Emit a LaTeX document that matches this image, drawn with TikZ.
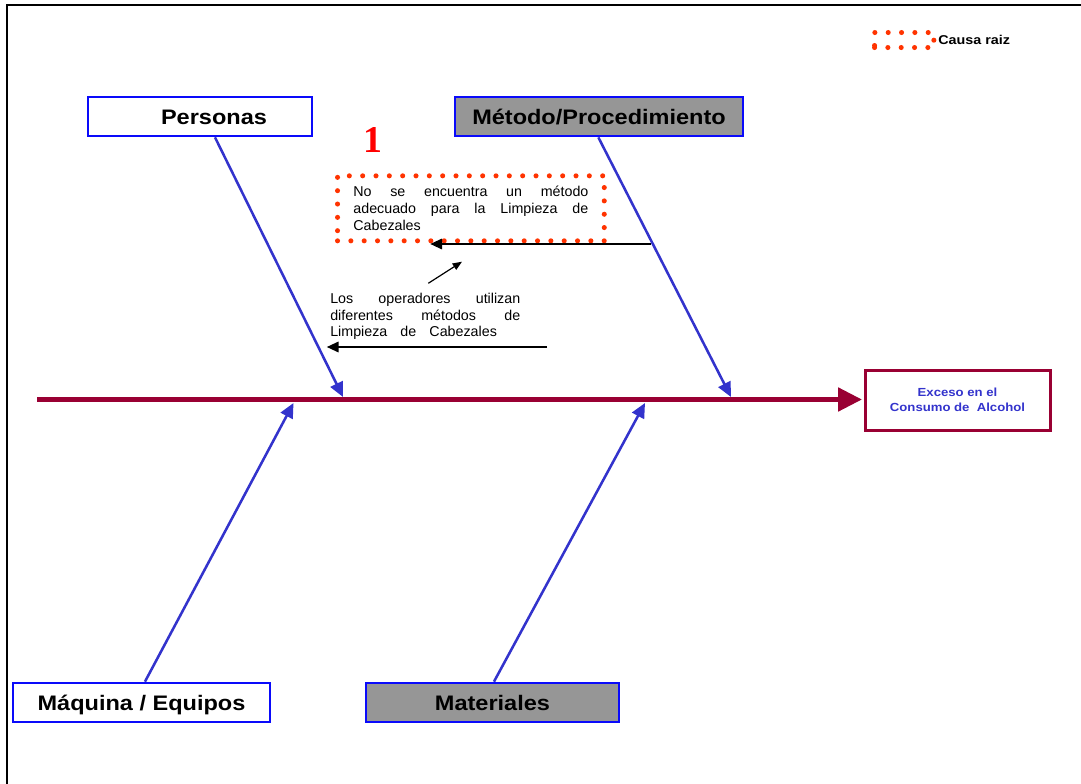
\documentclass[tikz,border=0pt]{standalone}
\usepackage{fontspec}
\setmainfont{Liberation Sans}
\newfontfamily\labelfont[FakeStretch=1.12]{Liberation Sans}
\newfontfamily\numfont{Liberation Serif}
\usetikzlibrary{arrows.meta,calc}
\definecolor{spinecol}{RGB}{153,0,51}
\definecolor{bonecol}{RGB}{51,51,204}
\definecolor{boxblue}{RGB}{10,10,250}
\definecolor{fillgray}{RGB}{150,150,150}
\definecolor{rootdot}{RGB}{255,51,0}
% a line of words spread evenly over a given width
\newcommand{\spreadline}[2]{\leavevmode\hbox to #1{#2}}

\begin{document}
\begin{tikzpicture}[x=0.75pt,y=-0.75pt,
  category/.style={draw=boxblue, line width=2pt, fill=white, minimum height=29.25pt,
    inner sep=0pt, text height=11.3pt, text depth=0pt,
    font=\labelfont\bfseries\fontsize{15.75}{18}\selectfont},
  grayed/.style={fill=fillgray},
  spine/.style={draw=spinecol, line width=4.2pt, -{Triangle[length=18pt,width=17pt]}},
  bone/.style={draw=bonecol, line width=1.9pt, -{Triangle[length=11pt,width=10pt]}},
  subcause/.style={draw=black, line width=2.2pt, -{Triangle[length=9pt,width=7.5pt]}},
  pointer/.style={draw=black, line width=0.9pt, -{Triangle[length=7pt,width=5.5pt]}},
  rootdots/.style={draw=rootdot, line width=3.8pt, line cap=round, dash pattern=on 0pt off 10pt},
  note/.style={font=\fontsize{10.7}{12.4}\selectfont, align=left, inner sep=0pt}
]
\useasboundingbox (0,0) rectangle (1081,784);

% page frame
\draw[line width=1.5pt] (7,784) -- (7,5) -- (1081,5);

% legend
\node[rootdots, minimum width=44.5pt, minimum height=11.25pt, inner sep=0pt, anchor=north west] (legend) at (872,30) {};
\node[font=\labelfont\bfseries\fontsize{9.6}{11}\selectfont, anchor=base west, inner sep=0pt] (legendtext) at (938,45) {Causa raiz};

% effect
\node[draw=spinecol, line width=2.25pt, minimum width=138.75pt, minimum height=45pt, align=center,
  text=bonecol, font=\labelfont\bfseries\fontsize{8.8}{11.25}\selectfont] (effect) at (957.5,400)
  {Exceso en el\\Consumo de\ \ Alcohol};

% categories
\node[category, minimum width=168pt] (per) at (200,116.5) {\hspace*{21pt}Personas};
\node[category, grayed, minimum width=216pt] (met) at (599,116.5) {Método/Procedimiento};
\node[category, minimum width=192.75pt] (maq) at (141.5,702.5) {Máquina / Equipos};
\node[category, grayed, minimum width=189.75pt] (mat) at (492.5,702.5) {Materiales};

% spine
\coordinate (tail) at (37,399.5);
\draw[spine, shorten >=1pt] (tail) -- (tail -| effect.west);

% bones
\coordinate (pertip) at (343,397);
\coordinate (mettip) at (731,397);
\coordinate (maqtip) at (293.5,403);
\coordinate (mattip) at (645,403);
\draw[bone] ([xshift=11.25pt]per.south) -- (pertip);
\draw[bone] ([xshift=-0.5pt]met.south) -- (mettip);
\draw[bone] ([xshift=2.6pt]maq.north) -- (maqtip);
\draw[bone] ([xshift=1.1pt]mat.north) -- (mattip);

% root cause
\node[font=\numfont\bfseries\fontsize{28.4}{30}\selectfont, text=red, anchor=base, inner sep=0pt] (rank) at (373,152.3) {1};
\node[note, rootdots, text width=176.25pt, inner xsep=11.9pt, minimum height=48.75pt, anchor=north west] (root) at (335,173.3)
  {\spreadline{176.25pt}{No\hfill se\hfill encuentra\hfill un\hfill método}\\
   \spreadline{176.25pt}{adecuado\hfill para\hfill la\hfill Limpieza\hfill de}\\
   Cabezales};

% secondary cause
\node[note, text width=142.5pt, anchor=north west] (oper) at (330,293)
  {\spreadline{142.5pt}{Los\hfill operadores\hfill utilizan}\\
   \spreadline{142.5pt}{diferentes\hfill métodos\hfill de}\\
   \spreadline{125pt}{Limpieza\hfill de\hfill Cabezales}};

% sub-cause arrows
\coordinate (s1) at (651,244);
\coordinate (e1) at (430,244);
\draw[subcause] (s1) -- (e1);
\coordinate (s2) at (547,347);
\coordinate (e2) at (326.5,347);
\draw[subcause] (s2) -- (e2);
\coordinate (p1) at (428.3,283.3);
\coordinate (p2) at (462,261.7);
\draw[pointer] (p1) -- (p2);
\end{tikzpicture}
\end{document}
